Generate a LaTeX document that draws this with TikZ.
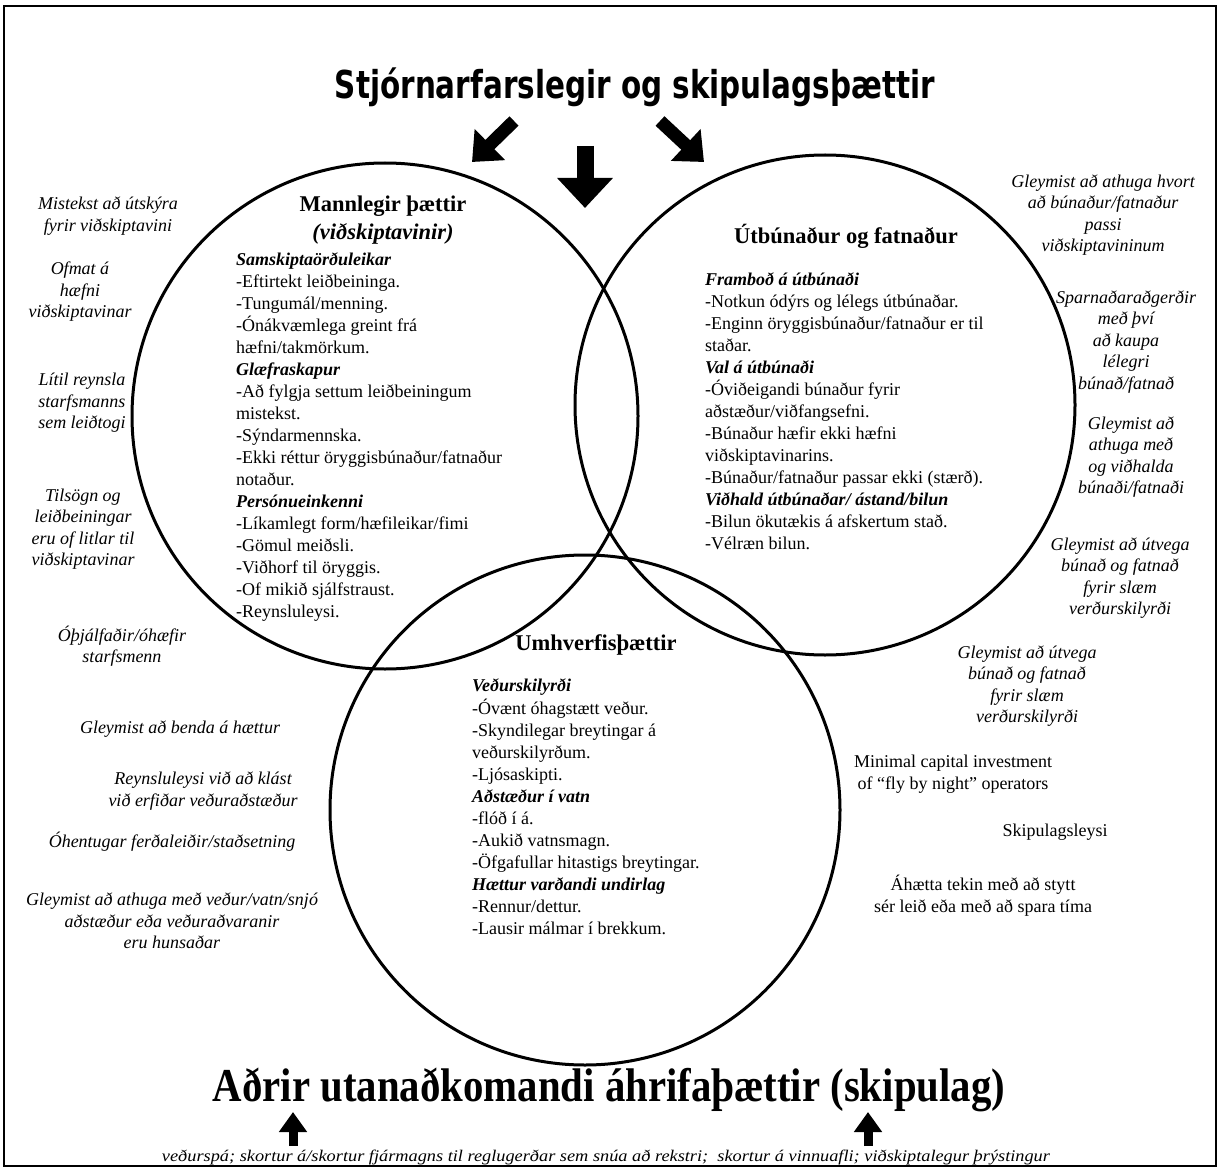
\documentclass[tikz,border=0pt]{standalone}
\usepackage{fontspec}
\usepackage{graphicx}
\setmainfont{Liberation Serif}
\newfontfamily\titlefont{DejaVu Sans}
\usetikzlibrary{arrows.meta}
\tikzset{
  circ/.style={circle, draw, line width=3pt, inner sep=0pt, minimum size=#1},
  body/.style={font=\fontsize{18}{22}\selectfont, align=left, inner sep=0pt, anchor=north west},
  inote/.style={font=\fontsize{18}{21.5}\selectfont\itshape, align=center, inner sep=0pt},
  unote/.style={font=\fontsize{18}{22}\selectfont, align=center, inner sep=0pt},
  head/.style={font=\fontsize{22.5}{28}\selectfont\bfseries, align=center, inner sep=0pt},
  bigarrow/.style={line width=13pt, -{Triangle[length=25pt,width=42pt]}},
  midarrow/.style={line width=17pt, -{Triangle[length=30pt,width=54pt]}},
  uparrow/.style={line width=9pt, -{Triangle[length=20pt,width=27pt]}}
}
\begin{document}
\begin{tikzpicture}[x=1pt,y=-1pt]
\useasboundingbox (0,0) rectangle (1219,1169);
\fill[white] (0,0) rectangle (1219,1169);
\draw[line width=2pt] (4,6) rectangle (1216,1166);

% title
\node[inner sep=0pt] (title) at (635,87) {\resizebox*{600pt}{39pt}{\titlefont\bfseries Stjórnarfarslegir og skipulagsþættir}};

% top arrows
\coordinate (la1) at (514,121); \coordinate (la2) at (472,162);
\coordinate (ma1) at (585,146); \coordinate (ma2) at (585,208);
\coordinate (ra1) at (660,121); \coordinate (ra2) at (704,162);
\draw[bigarrow] (la1) -- (la2);
\draw[midarrow] (ma1) -- (ma2);
\draw[bigarrow] (ra1) -- (ra2);

% circles
\node[circ=506pt] (human) at (385,416) {};
\node[circ=500pt] (equip) at (825,405) {};
\node[circ=510pt] (env) at (585,810) {};

% circle headings
\node[head] (hh) at (383,220) {Mannlegir þættir\\\textit{(viðskiptavinir)}};
\node[head] (eh) at (846,236) {Útbúnaður og fatnaður};
\node[head] (envh) at (596,645) {Umhverfisþættir};

% circle contents
\node[body] (hb) at (236,249.6) {\strut\textbf{\textit{Samskiptaörðuleikar}}\\
-Eftirtekt leiðbeininga.\\
-Tungumál/menning.\\
-Ónákvæmlega greint frá\\
hæfni/takmörkum.\\
\textbf{\textit{Glæfraskapur}}\\
-Að fylgja settum leiðbeiningum\\
mistekst.\\
-Sýndarmennska.\\
-Ekki réttur öryggisbúnaður/fatnaður\\
notaður.\\
\textbf{\textit{Persónueinkenni}}\\
-Líkamlegt form/hæfileikar/fimi\\
-Gömul meiðsli.\\
-Viðhorf til öryggis.\\
-Of mikið sjálfstraust.\\
-Reynsluleysi.};

\node[body] (eb) at (705,269.6) {\strut\textbf{\textit{Framboð á útbúnaði}}\\
-Notkun ódýrs og lélegs útbúnaðar.\\
-Enginn öryggisbúnaður/fatnaður er til\\
staðar.\\
\textbf{\textit{Val á útbúnaði}}\\
-Óviðeigandi búnaður fyrir\\
aðstæður/viðfangsefni.\\
-Búnaður hæfir ekki hæfni\\
viðskiptavinarins.\\
-Búnaður/fatnaður passar ekki (stærð).\\
\textbf{\textit{Viðhald útbúnaðar/ ástand/bilun}}\\
-Bilun ökutækis á afskertum stað.\\
-Vélræn bilun.};

\node[body] (envb) at (472,675.6) {\strut\textbf{\textit{Veðurskilyrði}}\\
-Óvænt óhagstætt veður.\\
-Skyndilegar breytingar á\\
veðurskilyrðum.\\
-Ljósaskipti.\\
\textbf{\textit{Aðstæður í vatn}}\\
-flóð í á.\\
-Aukið vatnsmagn.\\
-Öfgafullar hitastigs breytingar.\\
\textbf{\textit{Hættur varðandi undirlag}}\\
-Rennur/dettur.\\
-Lausir málmar í brekkum.};

% left notes
\node[inote] (n1) at (108,216) {Mistekst að útskýra\\fyrir viðskiptavini};
\node[inote] (n2) at (80,292) {Ofmat á\\hæfni\\viðskiptavinar};
\node[inote] (n3) at (82,403) {Lítil reynsla\\starfsmanns\\sem leiðtogi};
\node[inote] (n4) at (83,529) {Tilsögn og\\leiðbeiningar\\eru of litlar til\\viðskiptavinar};
\node[inote] (n5) at (122,646) {Óþjálfaðir/óhæfir\\starfsmenn};
\node[inote] (n6) at (180,729) {Gleymist að benda á hættur};
\node[inote] (n7) at (203,791) {Reynsluleysi við að klást\\við erfiðar veðuraðstæður};
\node[inote] (n8) at (172,842) {Óhentugar ferðaleiðir/staðsetning};
\node[inote] (n9) at (172,921) {Gleymist að athuga með veður/vatn/snjó\\aðstæður eða veðuraðvaranir\\eru hunsaðar};

% right notes
\node[inote] (r1) at (1103,215) {Gleymist að athuga hvort\\að búnaður/fatnaður\\passi\\viðskiptavininum};
\node[inote] (r2) at (1126,342) {Sparnaðaraðgerðir\\með því\\að kaupa\\lélegri\\búnað/fatnað};
\node[inote] (r3) at (1131,457) {Gleymist að\\athuga með\\og viðhalda\\búnaði/fatnaði};
\node[inote] (r4) at (1120,578) {Gleymist að útvega\\búnað og fatnað\\fyrir slæm\\verðurskilyrði};
\node[inote] (r5) at (1027,686) {Gleymist að útvega\\búnað og fatnað\\fyrir slæm\\verðurskilyrði};
\node[unote] (u1) at (953,774) {Minimal capital investment\\of “fly by night” operators};
\node[unote] (u2) at (1055,832) {Skipulagsleysi};
\node[unote] (u3) at (983,896) {Áhætta tekin með að stytt\\sér leið eða með að spara tíma};

% bottom heading
\node[inner sep=0pt] (other) at (609,1090) {\resizebox*{792pt}{44pt}{\bfseries Aðrir utanaðkomandi áhrifaþættir (skipulag)}};

% bottom arrows
\coordinate (ba1) at (293,1146); \coordinate (ba2) at (293,1112);
\coordinate (bb1) at (868,1146); \coordinate (bb2) at (868,1112);
\draw[uparrow] (ba1) -- (ba2);
\draw[uparrow] (bb1) -- (bb2);

% bottom line
\node[inner sep=0pt] (factors) at (606,1158) {\resizebox*{888pt}{15pt}{\itshape veðurspá; skortur á/skortur fjármagns til reglugerðar sem snúa að rekstri;\ \ skortur á vinnuafli; viðskiptalegur þrýstingur}};
\end{tikzpicture}
\end{document}
